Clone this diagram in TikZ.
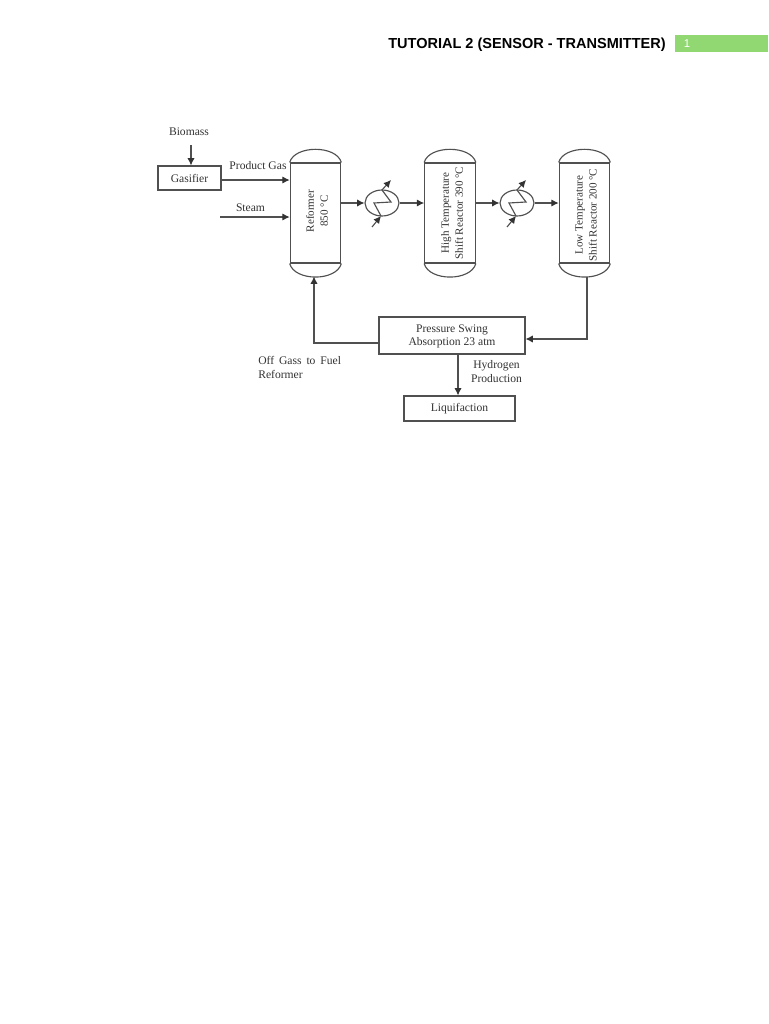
\documentclass[tikz,border=0pt]{standalone}
\usepackage{fontspec}
\setmainfont{Liberation Serif}
\newfontfamily\headfont{Liberation Sans}
\usetikzlibrary{arrows.meta,shapes.geometric,calc}
\definecolor{ink}{HTML}{333333}
\definecolor{linec}{HTML}{505050}
\definecolor{barg}{HTML}{92D872}
\tikzset{
  px/.style={x=0.75pt,y=-0.75pt},
  conn/.style={draw=linec,line width=0.85pt},
  arr/.style={conn,-{Latex[length=5.5pt,width=5.5pt,color=ink]}},
  boxn/.style={draw=linec,line width=0.85pt,rectangle,inner sep=0pt,align=center,text=ink,font=\fontsize{8.7}{9.9}\selectfont},
  vessel/.style={draw=linec,line width=0.85pt,rectangle,inner sep=0pt,minimum width=37.9pt,minimum height=75pt},
  dome/.style={draw=linec,line width=0.85pt},
  lab/.style={inner sep=0pt,text=ink,align=left,font=\fontsize{8.7}{9.9}\selectfont},
  vlab/.style={inner sep=0pt,text=ink,align=center,rotate=90,font=\fontsize{8.3}{10.5}\selectfont},
  hx/.style={draw=linec,line width=0.85pt,ellipse,inner sep=0pt,minimum width=25.5pt,minimum height=19.5pt}
}
\newcommand{\domes}[1]{%
  \draw[dome] (#1.north west) .. controls ($(#1.north west)+(5,-17.5)$) and ($(#1.north east)+(-5,-17.5)$) .. (#1.north east);
  \draw[dome] (#1.south west) .. controls ($(#1.south west)+(5,18)$) and ($(#1.south east)+(-5,18)$) .. (#1.south east);}
\newcommand{\coil}[1]{%
  \coordinate (#1in) at ($(#1)+(-10,24)$);
  \coordinate (#1a) at ($(#1)+(-1,13)$);
  \coordinate (#1b) at ($(#1)+(-8,0)$);
  \coordinate (#1c) at ($(#1)+(9,-1)$);
  \coordinate (#1d) at ($(#1)+(0,-13)$);
  \coordinate (#1out) at ($(#1)+(9,-23)$);
  \draw[arr] (#1in) -- (#1a);
  \draw[conn] (#1a) -- (#1b) -- (#1c) -- (#1d);
  \draw[arr] (#1d) -- (#1out);}
\begin{document}
\begin{tikzpicture}[px]
\useasboundingbox (0,0) rectangle (768,1024);
\fill[white] (0,0) rectangle (768,1024);
% header
\node[inner sep=0pt,anchor=base east,font=\headfont\bfseries\fontsize{10.9}{12}\selectfont] (title) at (666,48.6) {TUTORIAL 2 (SENSOR - TRANSMITTER)};
\node[fill=barg,inner sep=0pt,minimum width=69.75pt,minimum height=12.75pt,anchor=north west] (bar) at (675,35) {};
\node[inner sep=0pt,text=white,font=\headfont\fontsize{8.5}{10}\selectfont] (pg) at (687,43.5) {1};
% vessels
\node[vessel] (ref) at (315.5,213) {};
\node[vessel] (hts) at (450,213) {};
\node[vessel] (lts) at (584.5,213) {};
\domes{ref}\domes{hts}\domes{lts}
\node[vlab] (reft) at (317,211) {Reformer\\850 °C};
\node[vlab] (htst) at (452,213) {High Temperature\\Shift Reactor 390 °C};
\node[vlab] (ltst) at (586,215) {Low Temperature\\Shift Reactor 200 °C};
% exchangers
\node[hx] (hxa) at (382,203) {};
\node[hx] (hxb) at (517,203) {};
\coil{hxa}\coil{hxb}
% boxes
\node[boxn,minimum width=47.25pt,minimum height=18pt] (gas) at (189.5,178) {Gasifier};
\node[boxn,minimum width=109.5pt,minimum height=27.75pt] (psa) at (452,335.5) {};
\node[lab,align=center] (psat) at (452,336.5) {Pressure Swing\\Absorption 23 atm};
\node[boxn,minimum width=83.25pt,minimum height=18.75pt] (liq) at (459.5,408.5) {Liquifaction};
% labels
\node[lab] (biom) at (189,132) {Biomass};
\node[lab] (pgas) at (258,166) {Product Gas};
\node[lab] (stm) at (250.5,208) {Steam};
\node[lab,anchor=west] (off) at (258,367.5) {Off\hspace{1.5pt} Gass\hspace{1.5pt} to\hspace{1.5pt} Fuel\\Reformer};
\node[lab,align=center] (hyd) at (496.5,371.5) {Hydrogen\\Production};
% free ends
\coordinate (bmtop) at (191,145);
\coordinate (stmin) at (220,217);
\coordinate (ltsb) at (587,277);
\coordinate (psain) at (525.5,339);
\coordinate (psaout) at (379,343);
\coordinate (refb) at (314,276.5);
\coordinate (psaliq) at (458,354);
% connectors
\draw[arr] (bmtop) -- (bmtop |- gas.north);
\draw[arr] (gas.east |- 0,180) -- (ref.west |- 0,180);
\draw[arr] (stmin) -- (ref.west |- stmin);
\draw[arr] (ref.east |- hxa) -- (hxa.west);
\draw[arr] (hxa.east) -- (hts.west |- hxa);
\draw[arr] (hts.east |- hxb) -- (hxb.west);
\draw[arr] (hxb.east) -- (lts.west |- hxb);
\draw[arr] (ltsb) |- (psain);
\draw[arr] (psaout) -| (refb);
\draw[arr] (psaliq) -- (psaliq |- liq.north);
\end{tikzpicture}
\end{document}
